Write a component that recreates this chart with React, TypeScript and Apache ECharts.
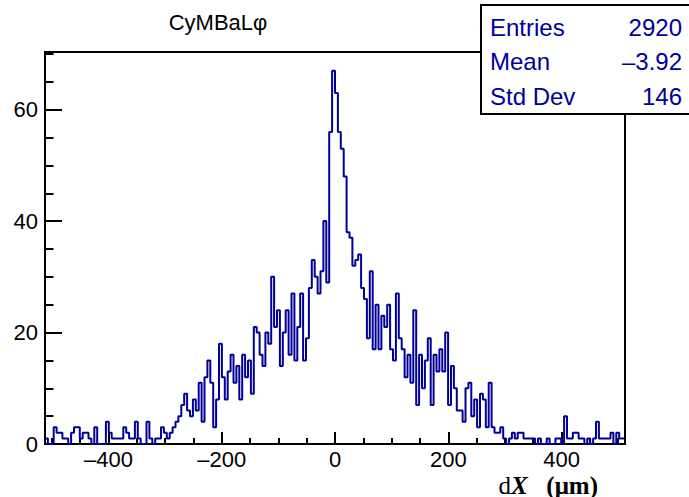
import React, { useEffect, useRef } from "react";
import * as echarts from "echarts";

// Histogram: 200 bins over [-512, 512] (bin width 5.12)
const histRange = [-512, 512];
const binCounts = [
  1, 0, 0, 3, 2, 2, 1, 1, 0, 2,
  3, 3, 1, 2, 2, 1, 0, 3, 0, 0,
  0, 4, 2, 1, 1, 1, 1, 3, 2, 1,
  1, 4, 1, 0, 0, 4, 1, 0, 1, 1,
  3, 2, 1, 2, 3, 4, 5, 7, 9, 6,
  5, 8, 6, 11, 4, 12, 15, 11, 3, 8,
  18, 12, 8, 13, 16, 11, 14, 8, 16, 12,
  15, 9, 21, 20, 16, 14, 20, 18, 30, 21,
  24, 14, 20, 24, 16, 27, 15, 21, 27, 15,
  19, 28, 33, 30, 27, 31, 40, 29, 56, 67,
  63, 56, 53, 48, 38, 37, 32, 33, 34, 28,
  26, 19, 31, 17, 25, 17, 23, 21, 25, 17,
  15, 27, 19, 17, 12, 16, 11, 24, 7, 16,
  10, 15, 19, 7, 16, 13, 17, 13, 20, 7,
  14, 10, 6, 6, 4, 10, 11, 5, 8, 3,
  9, 8, 3, 11, 3, 2, 2, 3, 1, 0,
  1, 2, 1, 2, 2, 1, 1, 1, 1, 0,
  1, 0, 0, 1, 0, 0, 1, 1, 0, 5,
  1, 1, 2, 2, 1, 1, 0, 1, 0, 1,
  4, 1, 1, 1, 1, 2, 0, 2, 1, 1,
];

const xMajorTicks = [-400, -200, 0, 200, 400];
const xMinorTicks = [
  -500, -450, -400, -350, -300, -250, -200, -150, -100, -50, 0,
  50, 100, 150, 200, 250, 300, 350, 400, 450, 500,
];
const yMax = 70.35;
const yMajorTicks = [0, 20, 40, 60];
const yMinorTicks = [0, 5, 10, 15, 20, 25, 30, 35, 40, 45, 50, 55, 60, 65, 70];

const titleText = "CyMBaL\u03c6";
const statNames = ["Entries", "Mean", "Std Dev"];
const statValues = ["2920", "\u20133.92", "146"];

const BLUE = "#000099";
const SANS = '"Liberation Sans", Arial, Helvetica, sans-serif';
const SERIF = '"Liberation Serif", "Times New Roman", serif';

export default function App() {
  const ref = useRef<HTMLDivElement>(null);

  useEffect(() => {
    if (!ref.current) return;
    const chart = echarts.init(ref.current, null, { renderer: "svg" });
    const n = binCounts.length;
    const w = (histRange[1] - histRange[0]) / n;
    const data: number[][] = binCounts.map((c, i) => [histRange[0] + i * w, c]);
    data.push([histRange[1], binCounts[n - 1]]);

    const fmt = (v: number) => (v < 0 ? "\u2013" + Math.abs(v) : String(v));
    const tickLine = { color: "#000", width: 2 };

    const statRows = [27, 61, 96];
    const statGraphics: any[] = [];
    statNames.forEach((name, k) => {
      statGraphics.push({
        type: "text",
        x: 490,
        y: statRows[k],
        z: 101,
        style: {
          text: name,
          fontSize: 24,
          fontFamily: SANS,
          fill: BLUE,
          align: "left",
          verticalAlign: "middle",
        },
      });
      statGraphics.push({
        type: "text",
        x: 682,
        y: statRows[k],
        z: 101,
        style: {
          text: statValues[k],
          fontSize: 24,
          fontFamily: SANS,
          fill: BLUE,
          align: "right",
          verticalAlign: "middle",
        },
      });
    });

    chart.setOption({
      animation: false,
      backgroundColor: "#fff",
      grid: {
        left: 45,
        right: 64,
        top: 52,
        bottom: 53,
        show: true,
        borderColor: "#000",
        borderWidth: 2,
        backgroundColor: "transparent",
      },
      xAxis: [
        {
          type: "value",
          min: histRange[0],
          max: histRange[1],
          position: "bottom",
          axisLine: { show: true, onZero: false, lineStyle: { color: "#000", width: 2 } },
          axisTick: { show: true, inside: true, length: 12, customValues: xMajorTicks, lineStyle: tickLine },
          axisLabel: {
            customValues: xMajorTicks,
            formatter: fmt,
            fontSize: 22,
            lineHeight: 18,
            fontFamily: SANS,
            color: "#000",
            margin: 6,
          },
          splitLine: { show: false },
        },
        {
          type: "value",
          min: histRange[0],
          max: histRange[1],
          position: "bottom",
          axisLine: { show: false, onZero: false },
          axisTick: { show: true, inside: true, length: 6, customValues: xMinorTicks, lineStyle: tickLine },
          axisLabel: { show: false },
          splitLine: { show: false },
        },
      ],
      yAxis: [
        {
          type: "value",
          min: 0,
          max: yMax,
          position: "left",
          axisLine: { show: true, onZero: false, lineStyle: { color: "#000", width: 2 } },
          axisTick: { show: true, inside: true, length: 17, customValues: yMajorTicks, lineStyle: tickLine },
          axisLabel: {
            customValues: yMajorTicks,
            fontSize: 22,
            fontFamily: SANS,
            color: "#000",
            margin: 7,
          },
          splitLine: { show: false },
        },
        {
          type: "value",
          min: 0,
          max: yMax,
          position: "left",
          axisLine: { show: false, onZero: false },
          axisTick: { show: true, inside: true, length: 8.5, customValues: yMinorTicks, lineStyle: tickLine },
          axisLabel: { show: false },
          splitLine: { show: false },
        },
      ],
      series: [
        {
          type: "line",
          step: "end",
          xAxisIndex: 0,
          yAxisIndex: 0,
          data,
          showSymbol: false,
          symbol: "none",
          lineStyle: { color: BLUE, width: 2 },
          clip: true,
          z: 3,
        },
      ],
      graphic: [
        {
          type: "text",
          x: 218,
          y: 22,
          style: {
            text: titleText,
            fontSize: 22,
            fontFamily: SANS,
            fill: "#000",
            align: "center",
            verticalAlign: "middle",
          },
        },
        {
          type: "rect",
          z: 100,
          shape: { x: 481, y: 5, width: 220, height: 109 },
          style: { fill: "#fff", stroke: "#000", lineWidth: 2 },
        },
        ...statGraphics,
        {
          type: "text",
          x: 598,
          y: 485,
          style: {
            text: "{a|d}{b|X}{c|   (\u03bcm)}",
            align: "right",
            verticalAlign: "middle",
            rich: {
              a: { fontSize: 25, lineHeight: 22, fontFamily: SERIF, fill: "#000" },
              b: { fontSize: 25, lineHeight: 22, fontFamily: SERIF, fontWeight: "bold", fontStyle: "italic", fill: "#000" },
              c: { fontSize: 25, lineHeight: 22, fontFamily: SERIF, fontWeight: "bold", fill: "#000" },
            },
          },
        },
      ],
    });

    return () => chart.dispose();
  }, []);

  return (
    <div
      ref={ref}
      style={{ position: "absolute", left: 0, top: 0, width: 689, height: 497, background: "#fff" }}
    />
  );
}
